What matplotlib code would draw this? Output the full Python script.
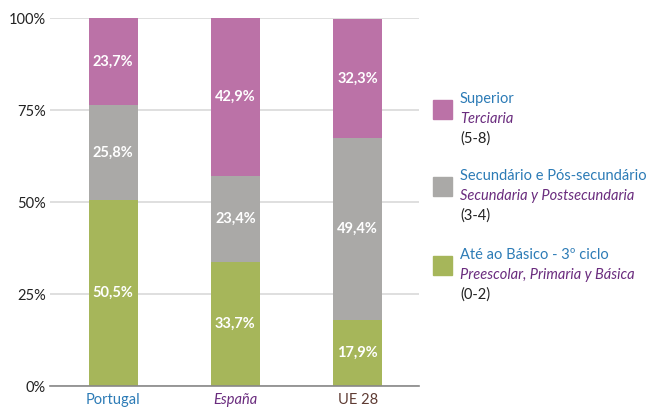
import matplotlib
matplotlib.use("Agg")
import matplotlib.pyplot as plt
from matplotlib.patches import Rectangle

plt.rcParams['font.family'] = ['Lato', 'DejaVu Sans']

countries = ["Portugal", "España", "UE 28"]
basico = [50.5, 33.7, 17.9]
secundario = [25.8, 23.4, 49.4]
superior = [23.7, 42.9, 32.3]
y_ticks = [0, 25, 50, 75, 100]

c_sup = "#BB72A7"
c_sec = "#AAA9A7"
c_bas = "#A6B65A"
country_colors = ["#2C7BB6", "#6A2C7E", "#5E3B33"]
country_styles = ["normal", "italic", "normal"]

fig = plt.figure(figsize=(6.49, 4.09), dpi=100)
ax = fig.add_axes([50 / 649, 23 / 409, 369 / 649, 368 / 409])

x = list(range(len(countries)))
w = 0.4
bottoms2 = [b + s for b, s in zip(basico, secundario)]
layers = [
    (basico, [0, 0, 0], c_bas),
    (secundario, basico, c_sec),
    (superior, bottoms2, c_sup),
]
for vals, bots, col in layers:
    ax.bar(x, vals, w, bottom=bots, color=col, zorder=3)
    for xi, v, b in zip(x, vals, bots):
        ax.text(xi, b + v / 2, f"{v:.1f}%".replace(".", ","), ha="center", va="center",
                color="white", fontsize=10.5, fontweight="bold", zorder=4)

ax.set_xlim(-0.515, 2.5)
ax.set_ylim(0, 100)
ax.set_yticks(y_ticks)
ax.set_yticklabels([f"{t}%" for t in y_ticks], fontsize=10.5, color="#222222")
ax.yaxis.grid(True, color="#D9D9D9", linewidth=1.2, zorder=0)
ax.tick_params(axis="both", length=0)
ax.tick_params(axis="y", pad=3)
for s in ["top", "right", "left"]:
    ax.spines[s].set_visible(False)
ax.spines["bottom"].set_color("#888888")
ax.spines["bottom"].set_linewidth(1.2)
ax.spines["bottom"].set_zorder(5)

ax.set_xticks(x)
ax.set_xticklabels(countries, fontsize=10.5)
for lbl, col, st in zip(ax.get_xticklabels(), country_colors, country_styles):
    lbl.set_color(col)
    lbl.set_fontstyle(st)
ax.tick_params(axis="x", pad=5)

# Legend built from text lines and colour squares
legend_items = [
    (c_sup, "Superior", "Terciaria", "(5-8)", 100),
    (c_sec, "Secundário e Pós-secundário", "Secundaria y Postsecundaria", "(3-4)", 177),
    (c_bas, "Até ao Básico - 3º ciclo", "Preescolar, Primaria y Básica", "(0-2)", 256),
]
W, H = 649, 409
for col, pt, es, code, ytop in legend_items:
    fig.patches.append(Rectangle((433 / W, 1 - (ytop + 19) / H), 19 / W, 19 / H,
                                 transform=fig.transFigure, color=col))
    fig.text(460 / W, 1 - (ytop - 1) / H, pt, color="#2C7BB6", fontsize=10.5,
             ha="left", va="center")
    fig.text(460 / W, 1 - (ytop + 19) / H, es, color="#6A2C7E", fontsize=10.5,
             style="italic", ha="left", va="center")
    fig.text(460 / W, 1 - (ytop + 39) / H, code, color="#222222", fontsize=10.5,
             ha="left", va="center")

fig.savefig("out.png", dpi=100)
